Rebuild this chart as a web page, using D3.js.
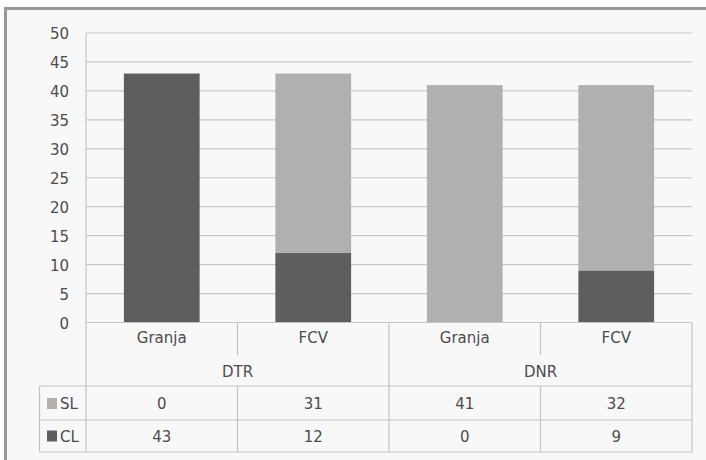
<!DOCTYPE html>
<html><head><meta charset="utf-8">
<script src="https://cdn.jsdelivr.net/npm/d3@7"></script>
<style>body{margin:0;background:#fff}svg{display:block}text{font-family:"DejaVu Sans",sans-serif;fill:#4c4c4c}</style>
</head><body>
<svg id="c" width="706" height="460"></svg>
<script>
const groups = ["DTR", "DNR"];
const categories = ["Granja", "FCV", "Granja", "FCV"];
const categoryGroup = ["DTR", "DTR", "DNR", "DNR"];
const seriesNames = ["SL", "CL"];
const SL = [0, 31, 41, 32];
const CL = [43, 12, 0, 9];
const yTicks = [0, 5, 10, 15, 20, 25, 30, 35, 40, 45, 50];
const colors = {SL: "#b0b0b0", CL: "#5e5e5e"};

const svg = d3.select("#c");
// frame
svg.append("rect").attr("x", 5.5).attr("y", 8.5).attr("width", 720).attr("height", 470)
  .attr("fill", "#f8f8f8").attr("stroke", "#999").attr("stroke-width", 3);

const L = 86, R = 692, T = 33, B = 322.5;
const x = d3.scaleBand().domain(d3.range(categories.length)).range([L, R]).paddingInner(0.5).paddingOuter(0.25);
const xc = d3.scaleBand().domain(d3.range(categories.length)).range([L, R]);
const y = d3.scaleLinear().domain([0, 50]).range([B, T]);

// gridlines
svg.append("g").selectAll("line").data(yTicks).join("line")
  .attr("x1", L).attr("x2", R).attr("y1", d => y(d)).attr("y2", d => y(d))
  .attr("stroke", "#c8c8c8").attr("stroke-width", 1.2);

const fs = 15;
// y axis labels
const yAxis = d3.axisLeft(y).tickValues(yTicks).tickSize(0).tickPadding(0);
const ga = svg.append("g").attr("transform", `translate(${L - 17},1)`).call(yAxis);
ga.select(".domain").remove();
ga.selectAll("text").attr("font-size", fs).attr("font-family", "DejaVu Sans").attr("fill", "#4c4c4c");

// stacked bars
const rows = categories.map((c, i) => ({i, SL: SL[i], CL: CL[i]}));
const stack = d3.stack().keys(["CL", "SL"])(rows);
svg.append("g").selectAll("g").data(stack).join("g").attr("fill", d => colors[d.key])
  .selectAll("rect").data(d => d).join("rect")
  .attr("x", d => x(d.data.i)).attr("width", x.bandwidth())
  .attr("y", d => y(d[1])).attr("height", d => y(d[0]) - y(d[1]));

// table lines
const tl = "#c4c4c4";
const tg = svg.append("g").attr("stroke", tl).attr("stroke-width", 1.2);
const rowY = [386, 420, 452];
const TL = 39.5;
tg.append("line").attr("x1", L).attr("x2", L).attr("y1", T).attr("y2", rowY[2]);
tg.append("line").attr("x1", R).attr("x2", R).attr("y1", B).attr("y2", rowY[2]);
tg.append("line").attr("x1", L).attr("x2", R).attr("y1", B).attr("y2", B);
tg.append("line").attr("x1", TL).attr("x2", TL).attr("y1", rowY[0]).attr("y2", rowY[2]);
rowY.forEach(v => tg.append("line").attr("x1", TL).attr("x2", R).attr("y1", v).attr("y2", v));
// group separator
tg.append("line").attr("x1", xc(2)).attr("x2", xc(2)).attr("y1", B).attr("y2", rowY[2]);
// inner separators
[1, 3].forEach(i => {
  tg.append("line").attr("x1", xc(i)).attr("x2", xc(i)).attr("y1", B).attr("y2", 355);
  tg.append("line").attr("x1", xc(i)).attr("x2", xc(i)).attr("y1", rowY[0]).attr("y2", rowY[2]);
});

// category labels
svg.append("g").selectAll("text").data(categories).join("text")
  .attr("x", (d, i) => xc(i) + xc.bandwidth() / 2).attr("y", 343)
  .attr("text-anchor", "middle").attr("font-size", fs).text(d => d);
// group labels
svg.append("g").selectAll("text").data(groups).join("text")
  .attr("x", g => {
    const idx = categoryGroup.map((c, i) => c === g ? i : -1).filter(i => i >= 0);
    return (xc(idx[0]) + xc(idx[idx.length - 1]) + xc.bandwidth()) / 2;
  }).attr("y", 377).attr("text-anchor", "middle").attr("font-size", fs).text(d => d);

// data table
const vals = {SL, CL};
const baseY = [409, 441.5];
seriesNames.forEach((s, r) => {
  const cy = baseY[r];
  svg.append("rect").attr("x", 47).attr("y", cy - 11).attr("width", 10).attr("height", 11).attr("fill", colors[s]);
  svg.append("text").attr("x", 60).attr("y", cy).attr("font-size", fs).text(s);
  svg.append("g").selectAll("text").data(vals[s]).join("text")
    .attr("x", (d, i) => xc(i) + xc.bandwidth() / 2).attr("y", cy)
    .attr("text-anchor", "middle").attr("font-size", fs).text(d => d);
});
</script>
</body></html>
